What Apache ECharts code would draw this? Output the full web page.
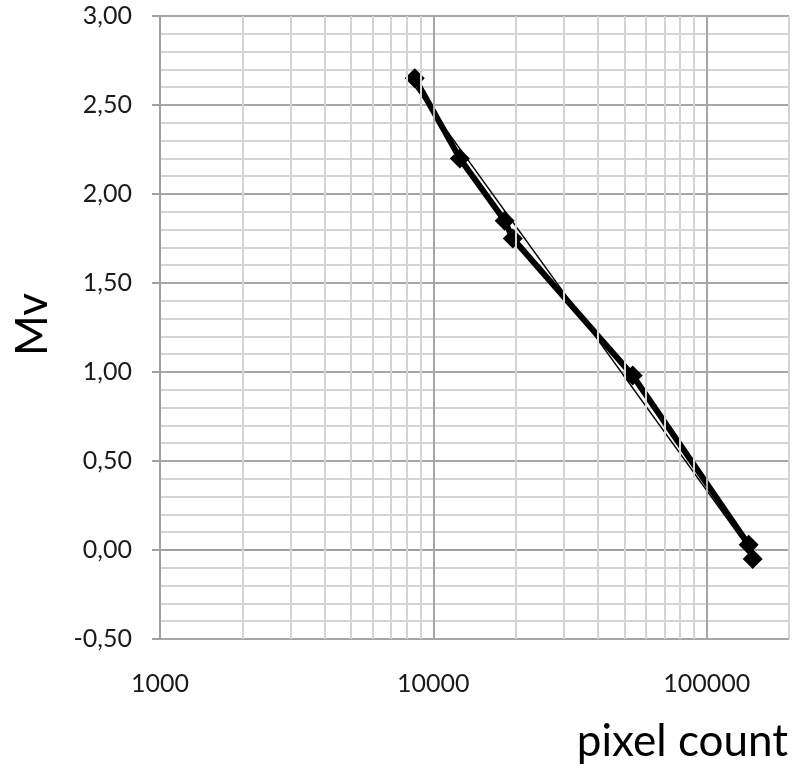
<!DOCTYPE html>
<html>
<head>
<meta charset="utf-8">
<script src="https://cdn.jsdelivr.net/npm/echarts@6/dist/echarts.min.js"></script>
<style>html,body{margin:0;padding:0;background:#fff;}#c{width:794px;height:770px;}</style>
</head>
<body>
<div id="c"></div>
<script>
// Data
var pixelCount = [8550, 12500, 18240, 19530, 53600, 142400, 147300];
var mvValues   = [2.65, 2.20, 1.85, 1.75, 0.98, 0.03, -0.05];
// thin trend line end points
var trendX = [8500, 148500];
var trendY = [2.61, -0.03];
// axis
var xTickLabels = ['1000', '10000', '100000'];
var xMajorGrid = [10000, 100000];
var xMinorGrid = [2000,3000,4000,5000,6000,7000,8000,9000,20000,30000,40000,50000,60000,70000,80000,90000,200000];

var FONT = 'Lato';
var mainData = pixelCount.map(function(x,i){return [x, mvValues[i]];});
var trendData = trendX.map(function(x,i){return [x, trendY[i]];});

var chart = echarts.init(document.getElementById('c'), null, {renderer:'canvas'});
chart.setOption({
  animation: false,
  backgroundColor: '#fff',
  grid: {left:160, right:5, top:16, bottom:131, containLabel:false},
  xAxis: {
    type: 'log', logBase: 10, min: 1000, max: 200000,
    axisLine: {show:true, lineStyle:{color:'#a0a0a0', width:2}},
    axisTick: {show:false},
    splitLine: {show:false},
    axisLabel: {
      margin: 32, fontFamily: FONT, fontSize: 25, color: '#1a1a1a',
      showMaxLabel: false,
      formatter: function(v){ var s = String(Math.round(v)); return xTickLabels.indexOf(s) >= 0 ? s : ''; }
    }
  },
  yAxis: {
    type: 'value', min: -0.5, max: 3, interval: 0.5,
    axisLine: {show:true, lineStyle:{color:'#a0a0a0', width:2}},
    axisTick: {show:true, inside:false, length:8, lineStyle:{color:'#a0a0a0', width:2}},
    splitLine: {show:true, lineStyle:{color:'#a6a6a6', width:2}},
    minorTick: {show:false, splitNumber:5},
    minorSplitLine: {show:true, lineStyle:{color:'#d4d4d4', width:2}},
    axisLabel: {
      margin: 28, fontFamily: FONT, fontSize: 25, color: '#1a1a1a',
      formatter: function(v){ return v.toFixed(2).replace('.', ','); }
    }
  },
  series: [
    {
      type: 'line', data: [], z: 0, silent: true,
      markLine: {
        silent: true, symbol: 'none', label: {show:false}, animation:false,
        data: xMinorGrid.map(function(v){return {xAxis:v, lineStyle:{color:'#d4d4d4', width:2, type:'solid'}};})
          .concat(xMajorGrid.map(function(v){return {xAxis:v, lineStyle:{color:'#a6a6a6', width:2, type:'solid'}};}))
      }
    },
    {
      type: 'line', data: trendData, symbol: 'none', z: 2, silent: true,
      lineStyle: {color:'#000', width:1.5}
    },
    {
      type: 'line', data: mainData, z: 3, silent: true,
      symbol: 'diamond', symbolSize: 20,
      itemStyle: {color:'#000', borderWidth: 0},
      lineStyle: {color:'#000', width:6}
    }
  ],
  graphic: [
    {type:'text', right: 6, top: 720, style:{text:'pixel count', fontFamily: FONT, fontSize: 44, fill:'#000'}},
    {type:'text', x: 11, y: 356, rotation: Math.PI/2, style:{text:'Mv', fontFamily: FONT, fontSize: 44, fill:'#000', textVerticalAlign:'top'}}
  ]
});
</script>
</body>
</html>
